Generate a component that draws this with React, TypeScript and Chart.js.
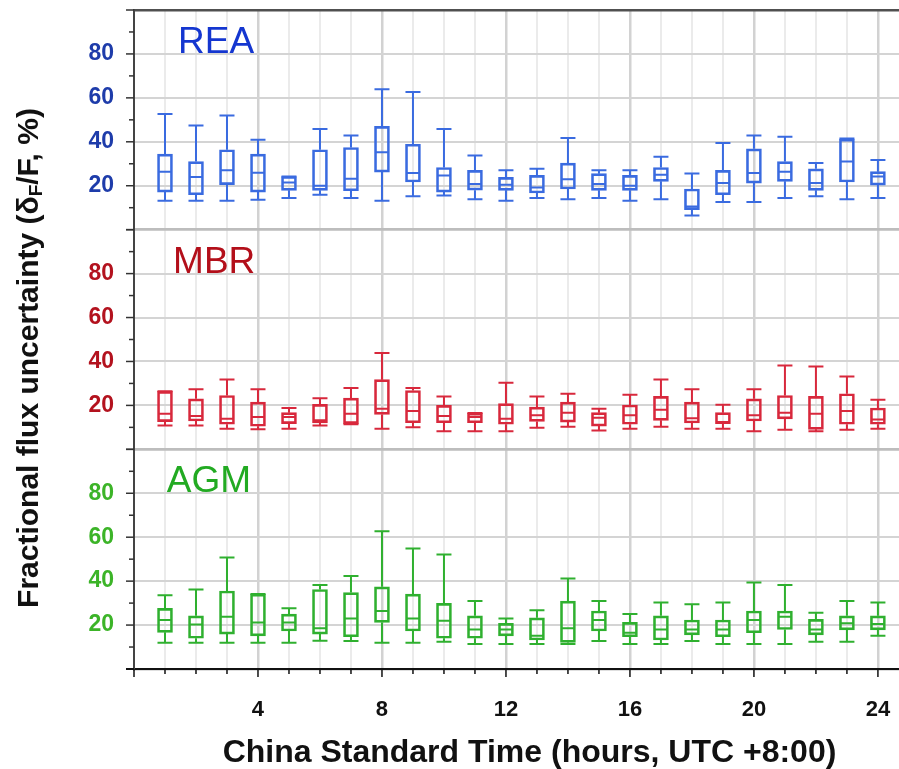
import React, { useEffect, useRef } from "react";
import Chart from "chart.js/auto";

const FONT = '"Liberation Sans", Arial, Helvetica, sans-serif';

const hours = [1, 2, 3, 4, 5, 6, 7, 8, 9, 10, 11, 12, 13, 14, 15, 16, 17, 18, 19, 20, 21, 22, 23, 24];
const xTickLabels = [4, 8, 12, 16, 20, 24];
const yTickLabels = [20, 40, 60, 80];
const panelNames = ["REA", "MBR", "AGM"];

// REA
const reaHi = [52.7, 47.4, 52, 40.9, 24.2, 45.8, 42.9, 63.9, 62.7, 45.8, 33.8, 27.1, 27.7, 41.7, 27.1, 27.1, 33.2, 25.6, 39.4, 42.9, 42.3, 30.3, 41.5, 31.7];
const reaQ3 = [34.4, 31, 36.4, 34.4, 24.2, 36.4, 37.4, 47, 38.9, 28.3, 27, 23.8, 24.7, 30.3, 25.5, 24.7, 28.3, 18.5, 27, 36.8, 31, 27.7, 41.2, 26.4];
const reaMed = [26.4, 24, 27, 25.9, 21.5, 20, 23.2, 35.2, 25.8, 24.7, 20.8, 20.5, 19.2, 23, 20.8, 20, 25, 10.6, 21.2, 25.8, 26.4, 21.2, 31, 24.2];
const reaQ1 = [17.1, 15.9, 20.5, 17.1, 17.9, 17.9, 17.7, 26.2, 21.7, 17.1, 18, 17.9, 16.7, 18.5, 17.9, 17.9, 22, 9.1, 15.9, 21.2, 22, 17.9, 21.7, 20.3];
const reaLo = [13.2, 13.2, 13.2, 13.6, 14.4, 15.9, 14.4, 13.2, 15.2, 15.5, 13.9, 13.2, 14.4, 13.9, 14.4, 13.2, 13.9, 6.5, 12.6, 12.6, 14.4, 15.2, 13.9, 14.4];

// MBR
const mbrHi = [26.4, 27.3, 31.8, 27.3, 18.8, 23.3, 27.9, 43.8, 27.9, 24.1, 16.5, 30.3, 24.1, 25.3, 18.5, 24.8, 31.8, 27.4, 20.3, 27.4, 38.2, 37.7, 33.2, 22.6];
const mbrQ3 = [26.4, 23, 24.5, 21.5, 16.7, 20.5, 23.3, 31.7, 26.8, 20, 16.5, 20.8, 19.2, 21.5, 16.7, 20.2, 24.1, 21.5, 16.7, 23, 24.5, 24.1, 25.3, 18.8];
const mbrMed = [16.2, 15.2, 13.9, 14.7, 14.7, 13.2, 16.2, 18.5, 17.4, 15.2, 14.7, 13.9, 15.5, 16.7, 14.4, 15.5, 18, 14.2, 12.4, 15.5, 16.7, 16.2, 17.4, 13.6];
const mbrQ1 = [12.6, 12.9, 11.4, 10.5, 11.7, 12, 11.7, 15.9, 12.1, 12.1, 12.1, 11.4, 12.7, 12.4, 10.6, 11.4, 13.2, 12, 11.7, 12.9, 13.9, 9.1, 11.4, 11.4];
const mbrLo = [10.9, 10.9, 9.4, 9.1, 9.4, 10.9, 11.4, 9.4, 10, 8.2, 8.2, 8.2, 9.8, 10.3, 8.6, 9.4, 10.3, 9.4, 9.4, 8.2, 8.9, 8.2, 8.9, 9.4];

// AGM
const agmHi = [33.6, 36.2, 50.8, 34.1, 27.6, 38.2, 42.3, 62.7, 54.8, 52.1, 30.9, 23, 26.8, 41.2, 30.9, 25, 30.3, 29.5, 30.3, 39.4, 38.2, 25.6, 31, 30.3];
const agmQ3 = [27.6, 24.2, 35.5, 34.1, 25, 36.2, 34.8, 37.4, 34.1, 29.9, 24.2, 20.8, 23.3, 30.9, 26.4, 21.2, 24.2, 22.3, 22.3, 26.4, 26.4, 22.6, 24.2, 24.2];
const agmMed = [22.3, 20.3, 23.8, 21.2, 21.2, 18.5, 23, 26.4, 23, 22, 18, 18, 15.1, 18.5, 22.3, 16.5, 18, 18, 18, 22.3, 23.8, 18, 20.8, 20.5];
const agmQ1 = [16.7, 14, 15.9, 15.1, 17.3, 15.9, 14.7, 21.2, 17.3, 14, 14, 15.1, 13.2, 12.1, 17.3, 14.7, 13.2, 15.5, 14.7, 16.5, 18, 15.5, 17.8, 17.8];
const agmLo = [12, 12, 12, 12, 12, 12.9, 12.7, 12, 12, 12.4, 11.4, 11.4, 11.4, 11.4, 12.7, 11.4, 11.4, 12.7, 11.4, 11.4, 11.4, 12.4, 12.4, 15.1];

const panels = [
  { name: panelNames[0], axis: "yREA", box: "#3a6be0", tick: "#1e3caa", label: "#1436d0", labelX: 1.42, hi: reaHi, q3: reaQ3, med: reaMed, q1: reaQ1, lo: reaLo },
  { name: panelNames[1], axis: "yMBR", box: "#d8283c", tick: "#b3121e", label: "#b30f1a", labelX: 1.26, hi: mbrHi, q3: mbrQ3, med: mbrMed, q1: mbrQ1, lo: mbrLo },
  { name: panelNames[2], axis: "yAGM", box: "#2fb02f", tick: "#3cb428", label: "#22aa22", labelX: 1.06, hi: agmHi, q3: agmQ3, med: agmMed, q1: agmQ1, lo: agmLo },
];

const BOX_W = 15;

const zeroPad = (s: any) => {
  s.paddingTop = 0;
  s.paddingBottom = 0;
  s.paddingLeft = 0;
  s.paddingRight = 0;
};

const boxPlugin = {
  id: "boxWhiskers",
  afterDatasetsDraw(chart: any) {
    const ctx = chart.ctx;
    const xs = chart.scales.x;
    ctx.save();
    panels.forEach((p) => {
      const ys = chart.scales[p.axis];
      ctx.strokeStyle = p.box;
      ctx.lineWidth = 2;
      hours.forEach((h, i) => {
        const x = xs.getPixelForValue(h);
        const yHi = ys.getPixelForValue(p.hi[i]);
        const yQ3 = ys.getPixelForValue(p.q3[i]);
        const yMed = ys.getPixelForValue(p.med[i]);
        const yQ1 = ys.getPixelForValue(p.q1[i]);
        const yLo = ys.getPixelForValue(p.lo[i]);
        const hw = BOX_W / 2;
        ctx.beginPath();
        ctx.moveTo(x, yQ3); ctx.lineTo(x, yHi);
        ctx.moveTo(x - hw, yHi); ctx.lineTo(x + hw, yHi);
        ctx.moveTo(x, yQ1); ctx.lineTo(x, yLo);
        ctx.moveTo(x - hw, yLo); ctx.lineTo(x + hw, yLo);
        ctx.moveTo(x - hw + 1, yMed); ctx.lineTo(x + hw - 1, yMed);
        ctx.stroke();
      });
    });
    ctx.restore();
  },
};

const decorPlugin = {
  id: "decor",
  afterDraw(chart: any) {
    const ctx = chart.ctx;
    const xs = chart.scales.x;
    const area = chart.chartArea;
    ctx.save();
    ctx.strokeStyle = "#333";
    ctx.lineWidth = 1.5;
    panels.forEach((p) => {
      const ys = chart.scales[p.axis];
      ys.ticks.forEach((t: any) => {
        const y = ys.getPixelForValue(t.value);
        const len = t.value % 20 === 0 ? 8 : 5;
        ctx.beginPath();
        ctx.moveTo(area.left - len, y);
        ctx.lineTo(area.left, y);
        ctx.stroke();
      });
    });
    ctx.strokeStyle = "#111";
    xs.ticks.forEach((t: any) => {
      if (!Number.isInteger(t.value)) return;
      const x = xs.getPixelForValue(t.value);
      const len = t.value % 4 === 0 ? 8 : 5;
      ctx.beginPath();
      ctx.moveTo(x, area.bottom);
      ctx.lineTo(x, area.bottom + len);
      ctx.stroke();
    });
    ctx.lineWidth = 2;
    ctx.beginPath();
    ctx.moveTo(area.left - 8, area.bottom);
    ctx.lineTo(area.left, area.bottom);
    ctx.stroke();

    panels.forEach((p) => {
      const ys = chart.scales[p.axis];
      ctx.fillStyle = p.label;
      ctx.font = `37px ${FONT}`;
      ctx.textAlign = "left";
      ctx.textBaseline = "alphabetic";
      ctx.fillText(p.name, xs.getPixelForValue(p.labelX), ys.getPixelForValue(80.5));
    });

    ctx.fillStyle = "#111";
    ctx.font = `bold 32px ${FONT}`;
    ctx.textAlign = "center";
    ctx.textBaseline = "middle";
    ctx.fillText("China Standard Time (hours, UTC +8:00)", (area.left + area.right) / 2 + 13, 753);

    const big = `bold 30px ${FONT}`;
    const small = `bold 19px ${FONT}`;
    const parts = [
      { t: "Fractional flux uncertainty (δ", f: big, dy: 0 },
      { t: "F", f: small, dy: 7 },
      { t: "/F, %)", f: big, dy: 0 },
    ];
    let total = 0;
    parts.forEach((pt) => { ctx.font = pt.f; total += ctx.measureText(pt.t).width; });
    ctx.translate(30, 358);
    ctx.rotate(-Math.PI / 2);
    ctx.textAlign = "left";
    ctx.textBaseline = "middle";
    let cx = -total / 2;
    parts.forEach((pt) => {
      ctx.font = pt.f;
      ctx.fillText(pt.t, cx, pt.dy);
      cx += ctx.measureText(pt.t).width;
    });
    ctx.restore();
  },
};

function yAxis(p: any, isTop: boolean) {
  return {
    type: "linear",
    position: "left",
    stack: "panels",
    stackWeight: 1,
    offset: false,
    min: 0,
    max: 100,
    afterFit: (s: any) => { s.width = 134; zeroPad(s); },
    ticks: {
      stepSize: 10,
      autoSkip: false,
      color: p.tick,
      padding: 20,
      font: { family: FONT, size: 23, weight: "bold" },
      callback: (v: number) => (yTickLabels.includes(v) ? String(v) : ""),
    },
    grid: {
      drawTicks: false,
      color: (c: any) => {
        const v = c.tick ? c.tick.value : -1;
        if (v === 100) return isTop ? "#505050" : "#bdbdbd";
        if (v === 0) return "#bdbdbd";
        if (v % 20 === 0) return "#d4d4d4";
        return "rgba(0,0,0,0)";
      },
      lineWidth: (c: any) => {
        const v = c.tick ? c.tick.value : -1;
        if (v === 0 || v === 100) return 2.5;
        return 2;
      },
    },
    border: { display: true, color: "#444", width: 2 },
  };
}

export default function App() {
  const ref = useRef<HTMLCanvasElement | null>(null);
  useEffect(() => {
    if (!ref.current) return;
    const datasets = panels.map((p) => ({
      type: "bar",
      label: p.name,
      yAxisID: p.axis,
      xAxisID: "x",
      data: hours.map((h, i) => ({ x: h, y: [p.q1[i], p.q3[i]] })),
      backgroundColor: "rgba(0,0,0,0)",
      borderColor: p.box,
      borderWidth: 2,
      borderSkipped: false,
      barThickness: BOX_W,
      grouped: false,
    }));
    const chart = new Chart(ref.current, {
      type: "bar",
      data: { datasets } as any,
      options: {
        responsive: false,
        animation: false,
        layout: { autoPadding: false, padding: { top: 10, left: 0, right: 0, bottom: 0 } },
        plugins: { legend: { display: false }, tooltip: { enabled: false } },
        scales: {
          x: {
            type: "linear",
            min: 0,
            max: 24.68,
            offset: false,
            afterFit: (s: any) => { s.height = 100; zeroPad(s); },
            ticks: {
              stepSize: 1,
              includeBounds: false,
              autoSkip: false,
              maxRotation: 0,
              color: "#111",
              padding: 28,
              font: { family: FONT, size: 22, weight: "bold" },
              callback: (v: number) => (xTickLabels.includes(v) ? String(v) : ""),
            },
            grid: {
              offset: false,
              drawTicks: false,
              color: (c: any) => {
                const v = c.tick ? c.tick.value : 0.5;
                if (!Number.isInteger(v) || v === 0) return "rgba(0,0,0,0)";
                return v % 4 === 0 ? "#d2d2d2" : "#ebebeb";
              },
              lineWidth: (c: any) => {
                const v = c.tick ? c.tick.value : 0.5;
                return v % 4 === 0 ? 2.5 : 2;
              },
            },
            border: { display: true, color: "#111", width: 2 },
          },
          yAGM: yAxis(panels[2], false),
          yMBR: yAxis(panels[1], false),
          yREA: yAxis(panels[0], true),
        } as any,
      },
      plugins: [boxPlugin, decorPlugin],
    } as any);
    return () => chart.destroy();
  }, []);
  return (
    <div style={{ position: "absolute", left: 0, top: 0, width: 899, height: 769, background: "#fff" }}>
      <canvas ref={ref} width={899} height={769} style={{ display: "block" }} />
    </div>
  );
}
